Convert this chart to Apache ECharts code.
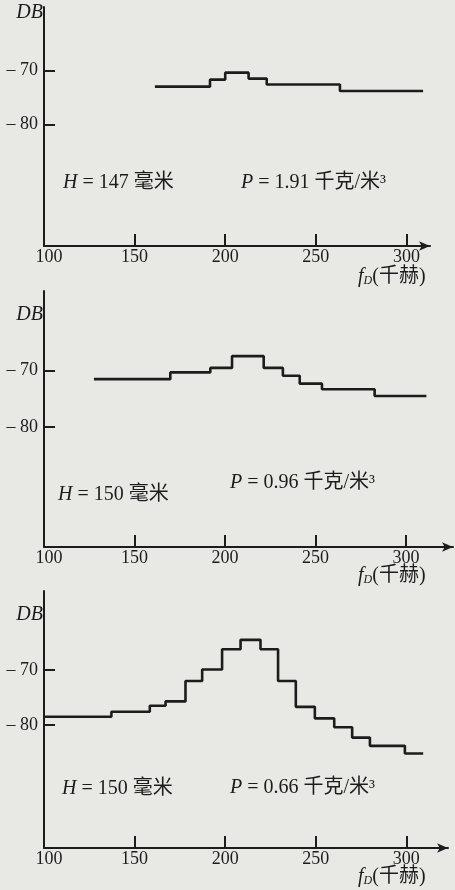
<!DOCTYPE html>
<html>
<head>
<meta charset="utf-8">
<script src="https://cdn.jsdelivr.net/npm/echarts@6/dist/echarts.min.js"></script>
<style>
html,body{margin:0;padding:0;background:#e8e8e5;}
#c{width:455px;height:890px;}
</style>
</head>
<body>
<div id="c"></div>
<script>
// ---- data (frequency kHz edges, level dB per step) ----
const xTicks = [100, 150, 200, 250, 300];
const yTicks = [-70, -80];

const edges1 = [161.2, 191.6, 200.0, 212.9, 222.9, 263.3, 309.2];
const levels1 = [-73.0, -71.7, -70.4, -71.5, -72.6, -73.8];

const edges2 = [127.6, 169.8, 191.9, 203.9, 221.4, 232.0, 241.3, 253.6, 282.7, 311.3];
const levels2 = [-71.5, -70.3, -69.5, -67.4, -69.5, -70.9, -72.3, -73.3, -74.5];

const edges3 = [100, 137.2, 158.4, 167.1, 178.1, 187.3, 198.3, 208.5, 219.5, 229.2, 239.0, 249.5, 260.2, 270.1, 279.9, 299.2, 309.3];
const levels3 = [-78.5, -77.6, -76.5, -75.7, -72.0, -69.9, -66.2, -64.5, -66.2, -72.0, -76.7, -78.8, -80.4, -82.3, -83.8, -85.2];

const labelsH = [' = 147 毫米', ' = 150 毫米', ' = 150 毫米'];
const labelsP = [' = 1.91 千克/米³', ' = 0.96 千克/米³', ' = 0.66 千克/米³'];

// ---- layout ----
const INK = '#1c1c1c';
const SERIF = '"Liberation Serif","DejaVu Serif","Noto Sans CJK SC",serif';
const panels = [
  {grid:{left:44, top:7, width:386, height:239}, xmax:313, ymin:-102.6, ymax:-58.2, db:13, fd:279, h:[63,185], p:[241,185]},
  {grid:{left:44, top:291, width:409, height:256}, xmax:326, ymin:-101.4, ymax:-55.8, db:315, fd:578, h:[58,497], p:[230,485]},
  {grid:{left:44, top:591, width:404, height:257}, xmax:323, ymin:-102.4, ymax:-55.6, db:615, fd:879, h:[62,791], p:[230,790]}
];
const allEdges = [edges1, edges2, edges3];
const allLevels = [levels1, levels2, levels3];

function stepData(edges, levels){
  return edges.map((x,i)=>[x, levels[Math.min(i, levels.length-1)]]);
}

const chart = echarts.init(document.getElementById('c'), null, {renderer:'canvas'});
const grids=[], xAxes=[], yAxes=[], series=[], graphics=[];
panels.forEach((p,i)=>{
  grids.push(p.grid);
  xAxes.push({
    type:'value', gridIndex:i, min:100, max:p.xmax,
    axisLine:{show:true, onZero:false, symbol:['none','arrow'], symbolSize:[7,11], lineStyle:{color:INK, width:2}},
    axisTick:{show:true, inside:true, length:12, customValues:xTicks.slice(1), lineStyle:{color:INK, width:2}},
    axisLabel:{customValues:xTicks, color:INK, fontFamily:SERIF, fontSize:18, margin:2,
      formatter:v=> v===100 ? '{a|100}' : String(v),
      rich:{a:{fontFamily:SERIF, fontSize:18, color:INK, padding:[0,0,0,10]}}},
    splitLine:{show:false}
  });
  yAxes.push({
    type:'value', gridIndex:i, min:p.ymin, max:p.ymax,
    axisLine:{show:true, onZero:false, lineStyle:{color:INK, width:2}},
    axisTick:{show:true, inside:true, length:11, customValues:yTicks, lineStyle:{color:INK, width:2}},
    axisLabel:{customValues:yTicks, color:INK, fontFamily:SERIF, fontSize:18, margin:6,
      formatter:v=>'– '+Math.abs(v)},
    splitLine:{show:false}
  });
  series.push({
    type:'line', xAxisIndex:i, yAxisIndex:i, step:'end', symbol:'none',
    lineStyle:{color:INK, width:2.6}, data:stepData(allEdges[i], allLevels[i]), silent:true
  });
  graphics.push({type:'text', right:455-43, top:p.db-10, style:{text:'DB', font:'italic 20px '+SERIF, fill:INK}});
  graphics.push({type:'text', left:358, top:p.fd-12, style:{
    text:'{f|f}{d|D}{c|(千赫)}', fill:INK,
    rich:{f:{fontFamily:SERIF, fontStyle:'italic', fontSize:20, fill:INK},
          d:{fontFamily:SERIF, fontStyle:'italic', fontSize:12, fill:INK, padding:[8,0,0,0]},
          c:{fontFamily:SERIF, fontSize:20, fill:INK}}}});
  graphics.push({type:'text', left:p.h[0], top:p.h[1]-12, style:{
    text:'{i|H}{n|'+labelsH[i]+'}', fill:INK,
    rich:{i:{fontFamily:SERIF, fontStyle:'italic', fontSize:20, fill:INK},
          n:{fontFamily:SERIF, fontSize:20, fill:INK}}}});
  graphics.push({type:'text', left:p.p[0], top:p.p[1]-12, style:{
    text:'{i|P}{n|'+labelsP[i]+'}', fill:INK,
    rich:{i:{fontFamily:SERIF, fontStyle:'italic', fontSize:20, fill:INK},
          n:{fontFamily:SERIF, fontSize:20, fill:INK}}}});
});

chart.setOption({
  backgroundColor:'#e8e8e5',
  animation:false,
  grid:grids, xAxis:xAxes, yAxis:yAxes, series:series, graphic:graphics
});
</script>
</body>
</html>
